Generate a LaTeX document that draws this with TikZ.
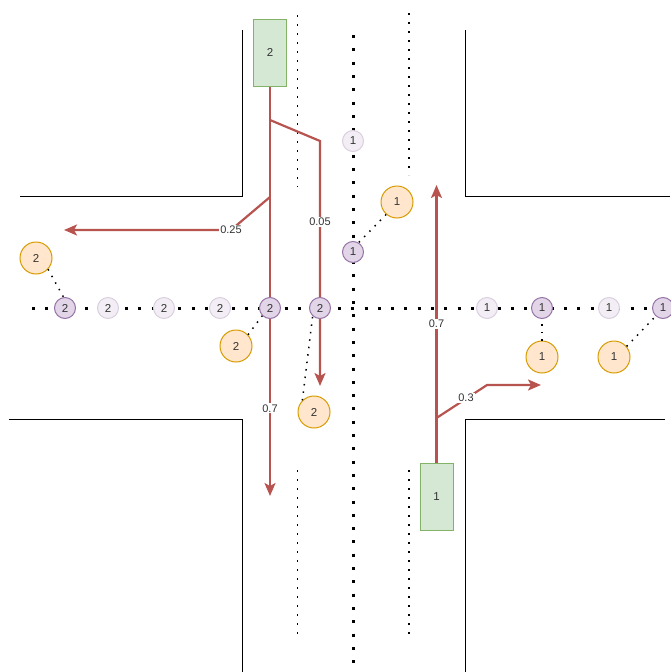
\documentclass[tikz,border=0pt]{standalone}
\usepackage{fontspec}
\setmainfont{Liberation Sans}
\usetikzlibrary{arrows.meta}
\definecolor{redline}{HTML}{B85450}
\definecolor{carfill}{HTML}{D5E8D4}
\definecolor{carline}{HTML}{82B366}
\definecolor{purfill}{HTML}{E1D5E7}
\definecolor{purline}{HTML}{9673A6}
\definecolor{orfill}{HTML}{FFE6CC}
\definecolor{orline}{HTML}{D79B00}
\definecolor{txt}{HTML}{333333}
\tikzset{
  road/.style={draw=black, line width=1},
  cdot/.style={draw=black, line width=3, dash pattern=on 3 off 10.3},
  lane/.style={draw=black, line width=1.8, dash pattern=on 1.8 off 7.2},
  link/.style={draw=black, line width=1.5, dash pattern=on 1.5 off 6},
  flow/.style={draw=redline, line width=2.2, -{Stealth[length=13pt,width=11pt,inset=3pt]}},
  car/.style={draw=carline, fill=carfill, line width=1, minimum width=33, minimum height=67, inner sep=0, font=\fontsize{11.5}{13}\selectfont, text=txt},
  pc/.style={circle, draw=purline, fill=purfill, line width=1, minimum size=21, inner sep=0, font=\fontsize{11.5}{13}\selectfont, text=txt},
  lc/.style={circle, draw=purline!35, fill=purfill!40, line width=1, minimum size=21, inner sep=0, font=\fontsize{11.5}{13}\selectfont, text=txt},
  oc/.style={circle, draw=orline, fill=orfill, line width=1, minimum size=32, inner sep=0, font=\fontsize{11.5}{13}\selectfont, text=txt},
  lab/.style={fill=white, inner sep=1pt, font=\fontsize{11}{13}\selectfont, text=txt}
}
\begin{document}
\begin{tikzpicture}[x=1pt,y=-1pt]
\useasboundingbox (0,0) rectangle (670,672);
% roads
\draw[road] (20,196) -- (242,196) -- (242,30);
\draw[road] (465,30) -- (465,196) -- (670,196);
\draw[road] (9,419) -- (242,419) -- (242,672);
\draw[road] (465,672) -- (465,419) -- (665,419);
% center lines
\draw[cdot] (353,35) -- (353,672);
\draw[cdot] (32,308) -- (670,308);
% lane lines
\draw[lane] (297.5,15) -- (297.5,187);
\draw[lane] (409,13) -- (409,175);
\draw[lane] (297.5,470) -- (297.5,640);
\draw[lane] (409,470) -- (409,640);
% cars
\node[car] (car2) at (270,52.5) {2};
\node[car] (car1) at (436.5,496.5) {1};
% branch coordinates
\coordinate (b1) at (270,120);
\coordinate (b1t) at (320,141);
\coordinate (b2) at (270,197);
\coordinate (b2t) at (231,230);
\coordinate (e07a) at (270,496);
\coordinate (e005) at (320,386);
\coordinate (e025) at (64,230);
\coordinate (c1) at (436.5,418);
\coordinate (c1t) at (487,385);
\coordinate (e07b) at (436.5,185);
\coordinate (e03) at (541,385);
% flows car 2
\draw[flow] (car2.south) -- (e07a) node[lab, pos=0.786] {0.7};
\draw[flow] (b1) -- (b1t) -- (e005) node[lab, pos=0.33] {0.05};
\draw[flow] (b2) -- (b2t) -- (e025) node[lab, pos=0.0] {0.25};
% flows car 1
\draw[flow] (car1.north) -- (e07b) node[lab, pos=0.5] {0.7};
\draw[flow] (c1) -- (c1t) -- (e03);
\node[lab] (l03) at (466,398) {0.3};
% circles on horizontal line
\node[pc] (h1) at (65,308) {2};
\node[lc] (h2) at (108,308) {2};
\node[lc] (h3) at (164,308) {2};
\node[lc] (h4) at (220,308) {2};
\node[pc] (h5) at (270,308) {2};
\node[pc] (h6) at (320,308) {2};
\node[lc] (h7) at (487,308) {1};
\node[pc] (h8) at (542,308) {1};
\node[lc] (h9) at (609,308) {1};
\node[pc] (h10) at (663,308) {1};
% circles on vertical line
\node[lc] (v1) at (353,141) {1};
\node[pc] (v2) at (353,252) {1};
% orange circles
\node[oc] (o1) at (36,258) {2};
\node[oc] (o2) at (236,346) {2};
\node[oc] (o3) at (314,412) {2};
\node[oc] (o4) at (397,202) {1};
\node[oc] (o5) at (542,357) {1};
\node[oc] (o6) at (614,357) {1};
% links
\draw[link] (o1.-43) -- (h1.98);
\draw[link] (o2.43) -- (h5.225);
\draw[link] (o3.135) -- (h6.228);
\draw[link] (o4.229) -- (v2.59);
\draw[link] (o5) -- (h8);
\draw[link] (o6.40) -- (h10.228);
\end{tikzpicture}
\end{document}
